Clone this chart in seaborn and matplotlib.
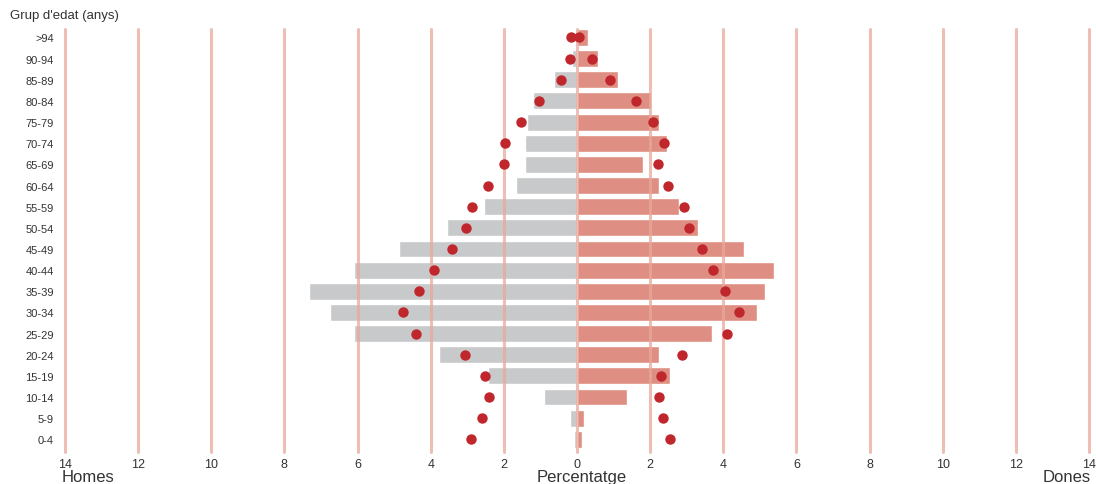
import matplotlib
matplotlib.use("Agg")
import matplotlib.pyplot as plt
import seaborn as sns
import pandas as pd
from matplotlib import font_manager

# ---- data (top row first) ----
age_groups = [">94", "90-94", "85-89", "80-84", "75-79", "70-74", "65-69", "60-64",
              "55-59", "50-54", "45-49", "40-44", "35-39", "30-34", "25-29",
              "20-24", "15-19", "10-14", "5-9", "0-4"]
men_pct = [0.05, 0.15, 0.64, 1.21, 1.38, 1.43, 1.43, 1.68, 2.55, 3.56, 4.88, 6.11,
           7.32, 6.75, 6.11, 3.78, 2.44, 0.91, 0.20, 0.09]
women_pct = [0.29, 0.57, 1.13, 2.01, 2.23, 2.45, 1.80, 2.23, 2.80, 3.32, 4.56, 5.38,
             5.13, 4.91, 3.68, 2.23, 2.53, 1.36, 0.18, 0.15]
men_ref = [0.16, 0.18, 0.45, 1.03, 1.53, 1.96, 2.00, 2.42, 2.88, 3.04, 3.43, 3.92,
           4.33, 4.75, 4.39, 3.06, 2.51, 2.40, 2.60, 2.90]
women_ref = [0.05, 0.42, 0.89, 1.60, 2.08, 2.38, 2.21, 2.48, 2.92, 3.05, 3.41, 3.71,
             4.04, 4.43, 4.10, 2.88, 2.29, 2.24, 2.35, 2.53]
x_ticks = [-14, -12, -10, -8, -6, -4, -2, 0, 2, 4, 6, 8, 10, 12, 14]

sns.set_theme(style="white")
names = {f.name for f in font_manager.fontManager.ttflist}
fam = ["Liberation Sans Narrow", "DejaVu Sans"] if "Liberation Sans Narrow" in names else ["Liberation Sans", "DejaVu Sans"]
plt.rcParams["font.family"] = fam

df = pd.DataFrame({
    "grup": age_groups,
    "homes": [-v for v in men_pct],
    "dones": women_pct,
    "homes_ref": [-v for v in men_ref],
    "dones_ref": women_ref,
})

fig = plt.figure(figsize=(10.96, 4.85), dpi=100)
ax = fig.add_axes([65 / 1096, 1 - 453 / 485, (1089 - 65) / 1096, (453 - 30) / 485])

sns.barplot(data=df, x="homes", y="grup", order=age_groups, orient="h",
            color="#c8c9ca", saturation=1, width=0.8, ax=ax, zorder=1)
sns.barplot(data=df, x="dones", y="grup", order=age_groups, orient="h",
            color="#de8e82", saturation=1, width=0.8, ax=ax, zorder=1)
sns.stripplot(data=df, x="homes_ref", y="grup", order=age_groups, orient="h",
              jitter=False, color="#c0272d", size=7.5, linewidth=0, ax=ax, zorder=4)
sns.stripplot(data=df, x="dones_ref", y="grup", order=age_groups, orient="h",
              jitter=False, color="#c0272d", size=7.5, linewidth=0, ax=ax, zorder=4)

for t in x_ticks:
    ax.axvline(t, color="#e9a89b", lw=2.2, alpha=0.75, zorder=3, clip_on=False)

ax.set_xlim(-14, 14)
ax.set_ylim(len(age_groups) - 0.4, -0.4)
ax.set_xticks(x_ticks)
ax.set_xticklabels([str(abs(t)) for t in x_ticks], fontsize=9, color="#333333")
ax.tick_params(axis="y", labelsize=8, colors="#333333", length=0, pad=8)
ax.tick_params(axis="x", length=0, pad=4)
ax.set_xlabel("")
ax.set_ylabel("")
for s in ax.spines.values():
    s.set_visible(False)

fig.text(10 / 1096, 1 - 16 / 485, "Grup d'edat (anys)", fontsize=9.5, color="#333333",
         ha="left", va="center")
fig.text(62 / 1096, 1 - 478 / 485, "Homes", fontsize=12, color="#333333", ha="left", va="center")
fig.text(582 / 1096, 1 - 478 / 485, "Percentatge", fontsize=12, color="#333333", ha="center", va="center")
fig.text(1091 / 1096, 1 - 478 / 485, "Dones", fontsize=12, color="#333333", ha="right", va="center")

fig.savefig("out.png", dpi=100)
